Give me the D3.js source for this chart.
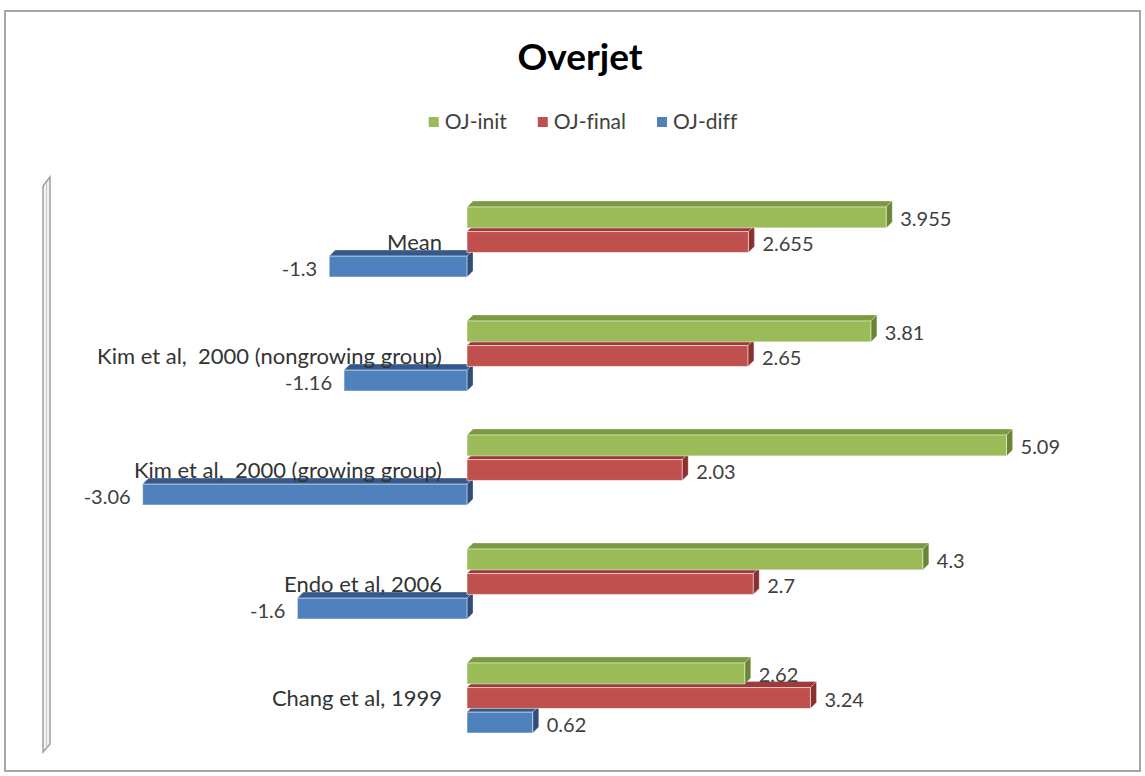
<!DOCTYPE html>
<html>
<head>
<meta charset="utf-8">
<script src="https://cdn.jsdelivr.net/npm/d3@7"></script>
<style>
  body { margin: 0; background: #fff; }
  svg { display: block; font-family: Lato, "Open Sans", sans-serif; }
</style>
</head>
<body>
<div class="main"></div>
<script>
// data, top to bottom
const categories = [
  "Mean",
  "Kim et al,  2000 (nongrowing group)",
  "Kim et al,  2000 (growing group)",
  "Endo et al, 2006",
  "Chang et al, 1999",
];
const series = ["OJ-init", "OJ-final", "OJ-diff"];
const ojInit = [3.955, 3.81, 5.09, 4.3, 2.62];
const ojFinal = [2.655, 2.65, 2.03, 2.7, 3.24];
const ojDiff = [-1.3, -1.16, -3.06, -1.6, 0.62];
const labelText = [
  ["3.955", "2.655", "-1.3"],
  ["3.81", "2.65", "-1.16"],
  ["5.09", "2.03", "-3.06"],
  ["4.3", "2.7", "-1.6"],
  ["2.62", "3.24", "0.62"],
];

const fullwidth = 1145;
const fullheight = 776;
const depth = { dx: 6, dy: -6 };

const colors = {
  "OJ-init": { front: "#9BBB59", top: "#7C9A40", side: "#6A8535" },
  "OJ-final": { front: "#C0504D", top: "#9E3B38", side: "#8A302E" },
  "OJ-diff": { front: "#4F81BD", top: "#34598A", side: "#2D4E7A" },
};

const values = [ojInit, ojFinal, ojDiff];
const data = [];
categories.forEach((c, i) => {
  series.forEach((s, j) => {
    data.push({ cat: c, ser: s, value: values[j][i], label: labelText[i][j] });
  });
});

const svg = d3
  .select(".main")
  .append("svg")
  .attr("width", fullwidth)
  .attr("height", fullheight);

// chart frame
svg
  .append("rect")
  .attr("x", 5)
  .attr("y", 11)
  .attr("width", 1135)
  .attr("height", 760)
  .attr("fill", "#fff")
  .attr("stroke", "#a6a6a6")
  .attr("stroke-width", 2);

const x = d3.scaleLinear().domain([-4, 6]).range([43, 1103]);

const y = d3
  .scaleBand()
  .domain(categories)
  .range([185, 755])
  .paddingInner(0.386)
  .paddingOuter(0.193);

const ys = d3
  .scaleBand()
  .domain(series)
  .range([0, y.bandwidth()])
  .paddingInner(0.15);

// thin 3d wall at the axis minimum
const wx = x(-4);
const wallTop = y.range()[0] - 8;
const wallBot = y.range()[1] - 3;
svg
  .append("path")
  .attr(
    "d",
    d3.line()([
      [wx, wallTop + 9],
      [wx + 7, wallTop],
      [wx + 7, wallBot - 8],
      [wx, wallBot],
      [wx, wallTop + 9],
    ])
  )
  .attr("fill", "#f2f2f2")
  .attr("stroke", "#a0a0a0")
  .attr("stroke-width", 1.5);
svg
  .append("line")
  .attr("x1", wx + 3.5)
  .attr("x2", wx + 3.5)
  .attr("y1", wallTop + 6)
  .attr("y2", wallBot - 4)
  .attr("stroke", "#c8c8c8")
  .attr("stroke-width", 1);

// bars: draw bottom to top so the upper fronts cover the lower tops
const bars = svg.append("g");
const ordered = data.slice().reverse();

ordered.forEach((d) => {
  const x0 = x(Math.min(0, d.value));
  const x1 = x(Math.max(0, d.value));
  const y0 = y(d.cat) + ys(d.ser);
  const h = ys.bandwidth();
  const c = colors[d.ser];
  const g = bars.append("g");

  // top face
  g.append("path")
    .attr(
      "d",
      d3.line()([
        [x0, y0],
        [x0 + depth.dx, y0 + depth.dy],
        [x1 + depth.dx, y0 + depth.dy],
        [x1, y0],
      ]) + "Z"
    )
    .attr("fill", c.top)
    .attr("stroke", "#fff")
    .attr("stroke-opacity", 0.35)
    .attr("stroke-width", 0.8);

  // side face
  g.append("path")
    .attr(
      "d",
      d3.line()([
        [x1, y0],
        [x1 + depth.dx, y0 + depth.dy],
        [x1 + depth.dx, y0 + h + depth.dy],
        [x1, y0 + h],
      ]) + "Z"
    )
    .attr("fill", c.side)
    .attr("stroke", "#fff")
    .attr("stroke-opacity", 0.35)
    .attr("stroke-width", 0.8);

  // front face
  g.append("rect")
    .attr("x", x0)
    .attr("y", y0)
    .attr("width", x1 - x0)
    .attr("height", h)
    .attr("fill", c.front)
    .attr("stroke", "#fff")
    .attr("stroke-opacity", 0.5)
    .attr("stroke-width", 1);
});

// data labels
svg
  .append("g")
  .selectAll("text")
  .data(data)
  .join("text")
  .attr("x", (d) => (d.value >= 0 ? x(d.value) + depth.dx + 8 : x(d.value) - 12))
  .attr("y", (d) => y(d.cat) + ys(d.ser) + ys.bandwidth() / 2 + 2)
  .attr("dy", "0.35em")
  .attr("text-anchor", (d) => (d.value >= 0 ? "start" : "end"))
  .attr("font-size", 20)
  .attr("fill", "#404040")
  .text((d) => d.label);

// category labels
svg
  .append("g")
  .selectAll("text")
  .data(categories)
  .join("text")
  .attr("x", x(0) - 25)
  .attr("y", (d) => y(d) + y.bandwidth() / 2)
  .attr("dy", "0.35em")
  .attr("text-anchor", "end")
  .attr("font-size", 22)
  .attr("fill", "#333")
  .style("white-space", "pre")
  .attr("xml:space", "preserve")
  .text((d) => d);

// title
svg
  .append("text")
  .attr("x", 580)
  .attr("y", 70)
  .attr("text-anchor", "middle")
  .attr("font-size", 37)
  .attr("font-weight", "bold")
  .attr("fill", "#000")
  .text("Overjet");

// legend
const legend = svg.append("g");
let lx = 0;
series.forEach((s) => {
  const item = legend.append("g").attr("transform", "translate(" + lx + ",0)");
  item
    .append("rect")
    .attr("x", 0)
    .attr("y", -5)
    .attr("width", 10)
    .attr("height", 10)
    .attr("fill", colors[s].front);
  const t = item
    .append("text")
    .attr("x", 16)
    .attr("y", 0)
    .attr("dy", "0.35em")
    .attr("font-size", 21)
    .attr("fill", "#404040")
    .style("font-variant-ligatures", "none")
    .text(s);
  lx += 16 + t.node().getComputedTextLength() + 31;
});
const lw = lx - 31;
legend.attr("transform", "translate(" + (583 - lw / 2) + ",122)");
</script>
</body>
</html>
